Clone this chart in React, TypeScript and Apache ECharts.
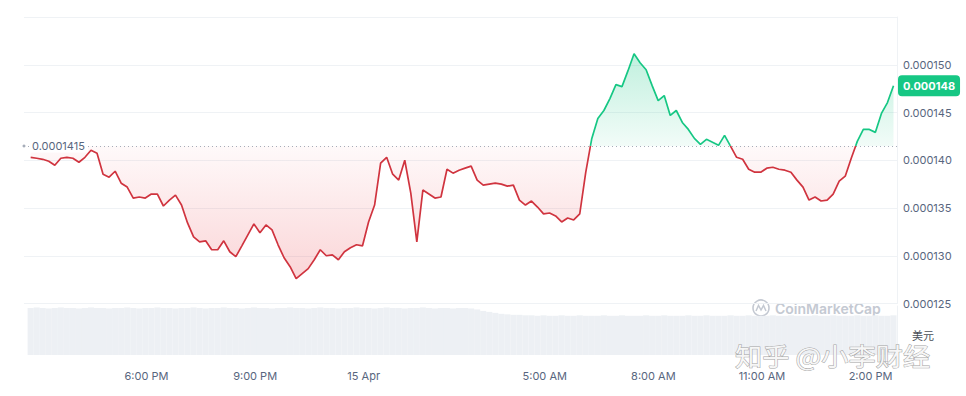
import React, { useEffect, useRef } from "react";
import * as echarts from "echarts";

// Price in units of 1e-6 USD, sampled every 10 minutes from 14 Apr 14:48
const START_HOUR = 14.8; // hours since 14 Apr 00:00
const STEP_HOURS = 1 / 6;
const prices = [
  140.31, 140.21, 140.1, 139.9, 139.48, 140.21, 140.31, 140.21, 139.79, 140.31,
  141.04, 140.73, 138.54, 138.23, 138.85, 137.6, 137.19, 136.04, 136.15, 136.04,
  136.46, 136.46, 135.21, 135.83, 136.35, 135.31, 133.44, 131.98, 131.46, 131.56,
  130.63, 130.63, 131.56, 130.42, 129.9, 131.04, 132.19, 133.33, 132.4, 133.23,
  132.71, 131.15, 129.79, 128.85, 127.6, 128.13, 128.65, 129.58, 130.63, 130.0,
  130.1, 129.58, 130.42, 130.83, 131.15, 131.04, 133.54, 135.31, 139.69, 140.31,
  138.54, 137.92, 140.0, 136.56, 131.46, 136.88, 136.46, 136.04, 136.15, 139.06,
  138.65, 138.96, 139.17, 139.38, 137.92, 137.4, 137.5, 137.6, 137.5, 137.29,
  137.4, 135.83, 135.31, 135.73, 135.1, 134.38, 134.48, 134.17, 133.54, 133.96,
  133.75, 134.38, 138.75, 142.29, 144.38, 145.21, 146.46, 147.92, 147.71, 149.38,
  151.15, 150.21, 149.48, 147.81, 146.25, 146.77, 144.69, 145.21, 143.96, 143.23,
  142.29, 141.67, 142.19, 141.88, 141.56, 142.6, 141.46, 140.31, 140.1, 139.06,
  138.75, 138.75, 139.17, 139.27, 139.06, 138.96, 138.75, 137.92, 137.19, 135.83,
  136.15, 135.73, 135.83, 136.46, 137.81, 138.33, 140.21, 141.98, 143.23, 143.23,
  142.92, 144.9, 146.04, 147.81,
];
const volumes = [
  96, 97, 96, 95, 96, 97, 96, 96, 95, 96, 97, 96, 96, 95, 96, 96, 97, 96, 95, 96,
  96, 97, 96, 96, 95, 96, 96, 97, 96, 95, 96, 96, 97, 96, 96, 95, 96, 97, 96, 96,
  95, 96, 96, 97, 96, 96, 95, 96, 97, 96, 96, 95, 96, 96, 97, 96, 96, 95, 96, 97,
  96, 96, 95, 96, 96, 97, 96, 95, 96, 96, 95, 96, 96, 95, 93, 90, 88, 86, 84, 83,
  82, 82, 81, 81, 80, 81, 80, 80, 81, 80, 80, 81, 80, 80, 80, 81, 80, 80, 81, 80,
  80, 80, 81, 80, 80, 81, 80, 80, 80, 81, 80, 80, 81, 80, 80, 80, 81, 80, 80, 81,
  80, 80, 80, 81, 80, 80, 81, 80, 80, 80, 81, 80, 80, 81, 80, 80, 80, 81, 80, 80,
  81, 80, 80, 81,
];
const BASELINE = 141.5;
const BASELINE_LABEL = "0.0001415";
const LAST_LABEL = "0.000148";
const xTickHours = [18, 21, 24, 29, 32, 35, 38];
const xTickLabels = ["6:00 PM", "9:00 PM", "15 Apr", "5:00 AM", "8:00 AM", "11:00 AM", "2:00 PM"];
const X_MIN = 14.616;
const X_MAX = 38.73;

const RED = "#d0343f";
const GREEN = "#16c784";
const AXIS_TEXT = "#58667e";
const GRID = "#eff2f5";
const FONT = "Inter, 'Noto Sans', sans-serif";

export default function App() {
  const ref = useRef<HTMLDivElement>(null);
  useEffect(() => {
    if (!ref.current) return;
    const chart = echarts.init(ref.current, undefined, { renderer: "svg" });
    const times = prices.map((_, i) => START_HOUR + i * STEP_HOURS);
    // polyline with the exact baseline crossings added, so fills and colours split cleanly
    const path: number[][] = [];
    for (let i = 0; i < prices.length; i++) {
      if (i > 0) {
        const a = prices[i - 1];
        const b = prices[i];
        if ((a - BASELINE) * (b - BASELINE) < 0) {
          const f = (BASELINE - a) / (b - a);
          path.push([times[i - 1] + f * (times[i] - times[i - 1]), BASELINE]);
        }
      }
      path.push([times[i], prices[i]]);
    }
    const redArea = path.map((p) => [p[0], Math.min(p[1], BASELINE)]);
    const greenArea = path.map((p) => [p[0], Math.max(p[1], BASELINE)]);
    const redLine = path.map((p) => (p[1] <= BASELINE ? p : [p[0], "-"]));
    const greenLine = path.map((p) => (p[1] >= BASELINE ? p : [p[0], "-"]));
    const volData = volumes.map((v, i) => [times[i], v]);

    chart.setOption({
      animation: false,
      textStyle: { fontFamily: FONT },
      grid: [
        { left: 24, right: 69, top: 17, bottom: 92.5 },
        { left: 24, right: 69, top: 306, bottom: 41 },
      ],
      xAxis: [
        { type: "value", gridIndex: 0, min: X_MIN, max: X_MAX, show: false },
        {
          type: "value",
          gridIndex: 1,
          min: X_MIN,
          max: X_MAX,
          axisLine: { show: false },
          axisTick: { show: false },
          splitLine: { show: false },
          axisLabel: {
            customValues: xTickHours,
            color: AXIS_TEXT,
            fontSize: 11,
            fontFamily: FONT,
            margin: 15,
            formatter: (v: number) => {
              const k = xTickHours.findIndex((h) => Math.abs(h - v) < 1e-6);
              return k >= 0 ? xTickLabels[k] : "";
            },
          },
        },
      ],
      yAxis: [
        {
          type: "value",
          gridIndex: 0,
          position: "right",
          min: 125,
          max: 155,
          interval: 5,
          axisLine: { show: true, lineStyle: { color: GRID } },
          axisTick: { show: false },
          splitLine: { show: true, lineStyle: { color: GRID } },
          axisLabel: {
            color: AXIS_TEXT,
            fontSize: 11,
            fontFamily: FONT,
            margin: 6,
            formatter: (v: number) => (v >= 155 ? "" : (v / 1e6).toFixed(6)),
          },
        },
        {
          type: "value",
          gridIndex: 1,
          position: "right",
          min: 0,
          max: 100,
          axisLine: { show: true, lineStyle: { color: GRID } },
          axisTick: { show: false },
          axisLabel: { show: false },
          splitLine: { show: false },
        },
      ],
      series: [
        {
          type: "line",
          xAxisIndex: 0,
          yAxisIndex: 0,
          data: redArea,
          showSymbol: false,
          lineStyle: { width: 0 },
          areaStyle: {
            origin: BASELINE,
            color: new echarts.graphic.LinearGradient(0, 0, 0, 1, [
              { offset: 0, color: "rgba(234,57,67,0.04)" },
              { offset: 1, color: "rgba(234,57,67,0.30)" },
            ]),
          },
          silent: true,
          markLine: {
            silent: true,
            symbol: ["circle", "none"],
            symbolSize: 3,
            lineStyle: { color: "#a6adb9", type: [1, 3], width: 1 },
            label: {
              position: "insideStart",
              formatter: BASELINE_LABEL,
              color: AXIS_TEXT,
              fontSize: 11,
              fontFamily: FONT,
              verticalAlign: "middle",
              backgroundColor: "#ffffff",
              padding: [1, 3],
            },
            data: [{ yAxis: BASELINE }],
          },
        },
        {
          type: "line",
          xAxisIndex: 0,
          yAxisIndex: 0,
          data: greenArea,
          showSymbol: false,
          lineStyle: { width: 0 },
          areaStyle: {
            origin: BASELINE,
            color: new echarts.graphic.LinearGradient(0, 0, 0, 1, [
              { offset: 0, color: "rgba(22,199,132,0.38)" },
              { offset: 1, color: "rgba(22,199,132,0.08)" },
            ]),
          },
          silent: true,
          markLine: {
            silent: true,
            symbol: ["none", "none"],
            lineStyle: { color: "rgba(0,0,0,0)", width: 0 },
            label: {
              show: true,
              position: "end",
              formatter: LAST_LABEL,
              color: "#ffffff",
              fontWeight: "bold",
              fontSize: 11,
              fontFamily: FONT,
              backgroundColor: GREEN,
              padding: [5, 5],
              borderRadius: 4,
              distance: 1,
            },
            data: [{ yAxis: prices[prices.length - 1] }],
          },
        },
        {
          type: "line",
          xAxisIndex: 0,
          yAxisIndex: 0,
          data: redLine,
          showSymbol: false,
          connectNulls: false,
          lineStyle: { width: 1.7, color: RED },
          itemStyle: { color: RED },
          z: 5,
          silent: true,
        },
        {
          type: "line",
          xAxisIndex: 0,
          yAxisIndex: 0,
          data: greenLine,
          showSymbol: false,
          connectNulls: false,
          lineStyle: { width: 1.7, color: GREEN },
          itemStyle: { color: GREEN },
          z: 5,
          silent: true,
        },
        {
          type: "bar",
          xAxisIndex: 1,
          yAxisIndex: 1,
          data: volData,
          barWidth: 6.1,
          itemStyle: { color: "#edf0f4" },
          silent: true,
        },
      ],
      graphic: [
        {
          type: "circle",
          shape: { cx: 761, cy: 308, r: 8 },
          style: { fill: "none", stroke: "#c4c9d2", lineWidth: 1.6 },
        },
        {
          type: "polyline",
          shape: { points: [[756, 311], [758.5, 305.5], [761, 310], [763.5, 305.5], [766, 311]] },
          style: { fill: "none", stroke: "#c4c9d2", lineWidth: 1.5 },
        },
        {
          type: "text",
          x: 775,
          y: 308,
          style: {
            text: "CoinMarketCap",
            fill: "#c4c9d2",
            font: "600 14px Inter, 'Noto Sans', sans-serif",
            verticalAlign: "middle",
          },
        },
        {
          type: "text",
          x: 912,
          y: 335,
          style: {
            text: "美元",
            fill: "#4a4f57",
            font: "11px 'Noto Sans CJK SC', sans-serif",
            verticalAlign: "middle",
          },
        },
        {
          type: "text",
          x: 735,
          y: 355.5,
          scaleX: 1.09,
          z: 100,
          style: {
            text: "知乎 @小李财经",
            fill: "#f6f6f6",
            stroke: "#a3a3a3",
            lineWidth: 1,
            font: "25px 'Noto Sans CJK SC', sans-serif",
            verticalAlign: "middle",
          },
        },
      ],
    });
    return () => chart.dispose();
  }, []);
  return <div ref={ref} style={{ width: 966, height: 396, position: "absolute", left: 0, top: 0 }} />;
}
